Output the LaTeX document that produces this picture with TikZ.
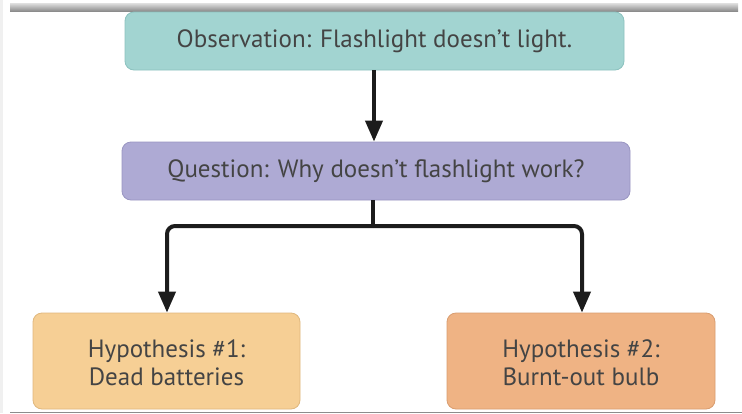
\documentclass[tikz,border=0pt]{standalone}
\usepackage{fontspec}
\setmainfont{PT Sans}
\usetikzlibrary{arrows.meta}
\definecolor{obsfill}{HTML}{A2D4D1}
\definecolor{obsdraw}{HTML}{8CC2BF}
\definecolor{qfill}{HTML}{AEAAD4}
\definecolor{qdraw}{HTML}{9A96C2}
\definecolor{hafill}{HTML}{F6CF95}
\definecolor{hadraw}{HTML}{E0B87E}
\definecolor{hbfill}{HTML}{EFB384}
\definecolor{hbdraw}{HTML}{D99D70}
\definecolor{txt}{HTML}{444444}
\definecolor{conncol}{HTML}{1C1C1C}
\tikzset{
  box/.style={rectangle, rounded corners=9pt, line width=0.8pt, inner sep=0pt,
    align=center, text=txt, font=\fontsize{25}{29.5}\selectfont},
  conn/.style={line width=4pt, draw=conncol, rounded corners=8pt},
  tip/.style={-{Triangle[length=21pt,width=17pt]}}
}
\begin{document}
\begin{tikzpicture}[x=1pt,y=-1pt]
\useasboundingbox (0,0) rectangle (742,413);
\fill[white] (0,0) rectangle (742,413);
\fill[black!6] (0,0) rectangle (3,413);
\shade[top color=black!12, bottom color=black!45] (10,3) rectangle (738,11);
\fill[black!45] (10,411.5) rectangle (742,413);
\node[box, fill=obsfill, draw=obsdraw, minimum width=499pt, minimum height=58pt] (obs) at (374.5,41) {Observation: Flashlight doesn’t light.};
\node[box, fill=qfill, draw=qdraw, minimum width=508pt, minimum height=58pt] (q) at (376,171) {Question: Why doesn’t flashlight work?};
\node[box, fill=hafill, draw=hadraw, minimum width=267pt, minimum height=96pt] (h1) at (166.5,361) {\raisebox{-11pt}[0pt][0pt]{\begin{tabular}{@{}c@{}}Hypothesis \#1:\\[-1pt]Dead batteries\end{tabular}}};
\node[box, fill=hbfill, draw=hbdraw, minimum width=268pt, minimum height=96pt] (h2) at (581,361) {\raisebox{-11pt}[0pt][0pt]{\begin{tabular}{@{}c@{}}Hypothesis \#2:\\[-1pt]Burnt-out bulb\end{tabular}}};
\coordinate (j) at (373,226);
\draw[conn, tip] (obs.south -| 374,0) -- (q.north -| 374,0);
\draw[conn] (q.south -| j) -- (j);
\draw[conn, tip] (j) -| ([xshift=0.5pt]h1.north);
\draw[conn, tip] (j) -| ([xshift=1pt]h2.north);
\end{tikzpicture}
\end{document}
